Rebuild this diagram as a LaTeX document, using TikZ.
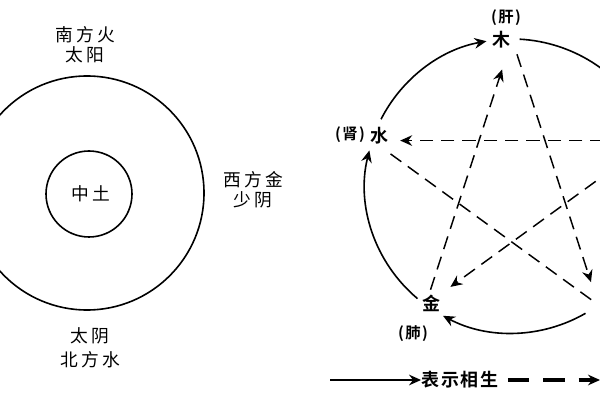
\documentclass[tikz,border=0pt]{standalone}
\usepackage{fontspec}
\usetikzlibrary{arrows.meta,calc}
\newfontfamily\cjk[LetterSpace=18]{Noto Sans CJK SC}
\newfontfamily\cjkb[LetterSpace=10]{Noto Sans CJK SC Bold}
\begin{document}
\begin{tikzpicture}[x=0.75pt,y=0.75pt,
  ring/.style={draw=black,line width=1.2pt},
  ltxt/.style={inner sep=0pt,font=\cjk\fontsize{13.3}{15}\selectfont},
  rtxt/.style={inner sep=0pt,font=\cjkb\fontsize{13.5}{15}\selectfont},
  stxt/.style={inner sep=0pt,font=\cjkb\fontsize{11.5}{13}\selectfont},
  sheng/.style={line width=1.2pt,-{Stealth[length=9pt,width=8pt,inset=3pt]}},
  ke/.style={line width=1.1pt,dash pattern=on 10pt off 6pt,-{Stealth[length=9pt,width=8pt,inset=3pt]}},
  kenone/.style={line width=1.1pt,dash pattern=on 10pt off 6pt}]
\useasboundingbox (0,0) rectangle (600,400);
\clip (0,0) rectangle (600,400);
% ---------- left diagram ----------
\coordinate (L) at (87,207);
\draw[ring] (L) circle[radius=117];
\draw[ring] (89,206) circle[radius=43];
\node[ltxt] (s1) at (85,365) {南方火};
\node[ltxt] (s2) at (85,345) {太阳};
\node[ltxt] (z)  at (91,206.5) {中土};
\node[ltxt] (w1) at (253,220) {西方金};
\node[ltxt] (w2) at (253,200) {少阴};
\node[ltxt] (n1) at (90,64) {太阴};
\node[ltxt] (n2) at (90,40) {北方水};
% ---------- right diagram ----------
\coordinate (O) at (512,214);
\coordinate (mu)   at ($(O)+(90:147)$);
\coordinate (shui) at ($(O)+(162:147)$);
\coordinate (jin)  at ($(O)+(234:147)$);
\coordinate (tu)   at ($(O)+(306:147)$);
\coordinate (huo)  at ($(O)+(18:147)$);
\node[rtxt] (lmu) at (501,360) {木};
\node[stxt] (lgan) at (506,382) {(肝)};
\node[rtxt] (lshui) at (379,264) {水};
\node[stxt] (lshen) at (350,265) {(肾)};
\node[rtxt] (ljin) at (431,97) {金};
\node[stxt] (lfei) at (413,66) {(肺)};
% solid arcs (xiang sheng)
\draw[sheng] ($(O)+(153:147)$) arc[start angle=153,end angle=100,radius=147];
\draw[sheng] ($(O)+(87:147)$) arc[start angle=87,end angle=27,radius=147];
\draw[sheng] ($(O)+(230:147)$) arc[start angle=230,end angle=166,radius=147];
\draw[sheng] ($(O)+(300:147)$) arc[start angle=300,end angle=242,radius=147];
% dashed star (xiang ke)
\draw[ke,shorten <=12pt,shorten >=24pt] (jin) -- (mu);
\draw[ke,shorten <=12pt,shorten >=18pt] (mu) -- (tu);
\draw[ke,shorten <=20pt,shorten >=21pt] (huo) -- (shui);
\draw[ke,shorten <=20pt,shorten >=23pt] (huo) -- (jin);
\draw[kenone,shorten <=17pt,shorten >=6pt] (shui) -- (tu);
% ---------- legend ----------
\coordinate (a0) at (330,20);
\node[rtxt] (leg) at (460,20) {表示相生};
\draw[sheng] (a0) -- (leg.west);
\coordinate (b1) at (600,20);
\draw[line width=2.4pt,dash pattern=on 16pt off 10.5pt,-{Stealth[length=9pt,width=8pt,inset=3pt]}] ($(leg.east)+(9,0)$) -- (b1);
\end{tikzpicture}
\end{document}
